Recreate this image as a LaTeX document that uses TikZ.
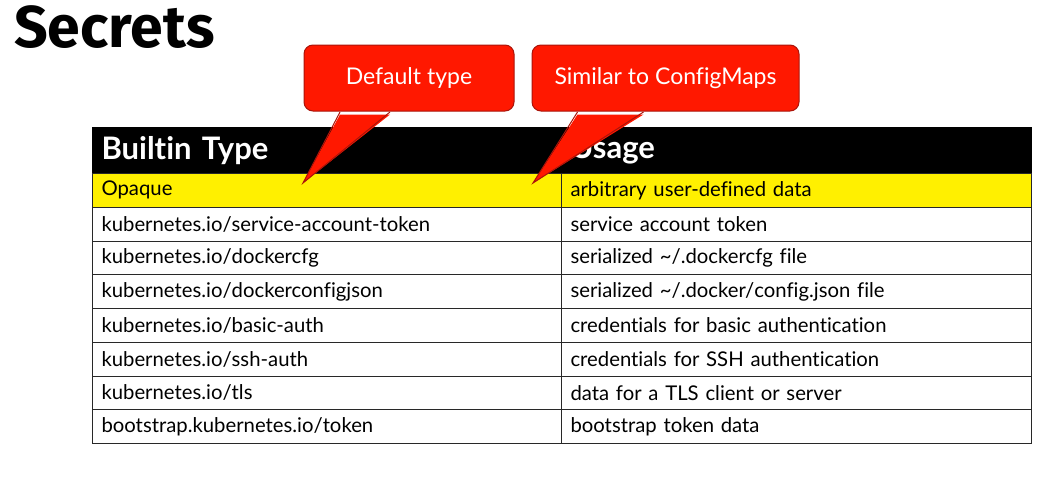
\documentclass[tikz,border=0pt]{standalone}
\usepackage{fontspec}
\setmainfont{Lato}[Ligatures=NoCommon]
\newfontfamily\titlefont{Fira Sans}
\definecolor{calloutred}{RGB}{255,24,0}
\definecolor{calloutedge}{RGB}{170,20,10}
\definecolor{rowyellow}{RGB}{255,240,0}
\definecolor{gridline}{RGB}{40,40,40}
\begin{document}
\begin{tikzpicture}[x=1pt,y=-1pt,
  cell/.style={draw=gridline, line width=1pt, anchor=north west, minimum height=33.75pt,
    text width=451pt, inner xsep=9pt, inner ysep=0pt, align=left, font=\fontsize{20.3}{23}\selectfont},
  wide/.style={text width=452pt},
  headcell/.style={cell, fill=black, draw=black, minimum height=46pt, text=white,
    font=\fontsize{31}{34}\selectfont\bfseries},
  callout/.style={fill=calloutred, draw=calloutedge, line width=1pt, rounded corners=9pt,
    text=white, font=\fontsize{23}{26}\selectfont, inner sep=0pt},
]
\useasboundingbox (0,0) rectangle (1048,477);
\node[anchor=base west, inner sep=0pt, font=\titlefont\bfseries\fontsize{59}{62}\selectfont] (title) at (14,47) {Secrets};

% header
\node[headcell] (h1) at (92,127) {\raisebox{-2pt}{Builtin Type}};
\node[headcell, wide] (h2) at (561,127) {\raisebox{-2pt}{Usage}};

% rows
\foreach \i/\a/\b in {
  0/Opaque/arbitrary user-defined data,
  1/kubernetes.io\slash service-account-token/service account token,
  2/kubernetes.io\slash dockercfg/serialized \textasciitilde\slash.dockercfg file,
  3/kubernetes.io\slash dockerconfigjson/serialized \textasciitilde\slash.docker\slash config.json file,
  4/kubernetes.io\slash basic-auth/credentials for basic authentication,
  5/kubernetes.io\slash ssh-auth/credentials for SSH authentication,
  6/kubernetes.io\slash tls/data for a TLS client or server,
  7/bootstrap.kubernetes.io\slash token/bootstrap token data}
{
  \ifnum\i=0
    \node[cell, fill=rowyellow] (a\i) at (92,{173+\i*33.75}) {\a};
    \node[cell, wide, fill=rowyellow] (b\i) at (561,{173+\i*33.75}) {\b};
  \else
    \node[cell] (a\i) at (92,{173+\i*33.75}) {\a};
    \node[cell, wide] (b\i) at (561,{173+\i*33.75}) {\b};
  \fi
}

% callouts
\node[callout, minimum width=210pt, minimum height=66pt] (c1) at (409,78) {\raisebox{-3pt}{Default type}};
\coordinate (t1) at (303,183);
\fill[calloutred] ([xshift=-69pt,yshift=-3pt]c1.south) -- (t1) -- ([xshift=-19pt,yshift=-3pt]c1.south) -- cycle;
\draw[calloutedge, line width=1pt, line join=miter] ([xshift=-69pt,yshift=-0.5pt]c1.south) -- (t1) -- ([xshift=-19pt,yshift=-0.5pt]c1.south);

\node[callout, minimum width=267pt, minimum height=66pt] (c2) at (665.5,78) {\raisebox{-3pt}{Similar to ConfigMaps}};
\coordinate (t2) at (533,183);
\fill[calloutred] ([xshift=-88pt,yshift=-3pt]c2.south) -- (t2) -- ([xshift=-22pt,yshift=-3pt]c2.south) -- cycle;
\draw[calloutedge, line width=1pt] ([xshift=-88pt,yshift=-0.5pt]c2.south) -- (t2) -- ([xshift=-22pt,yshift=-0.5pt]c2.south);
\end{tikzpicture}
\end{document}
